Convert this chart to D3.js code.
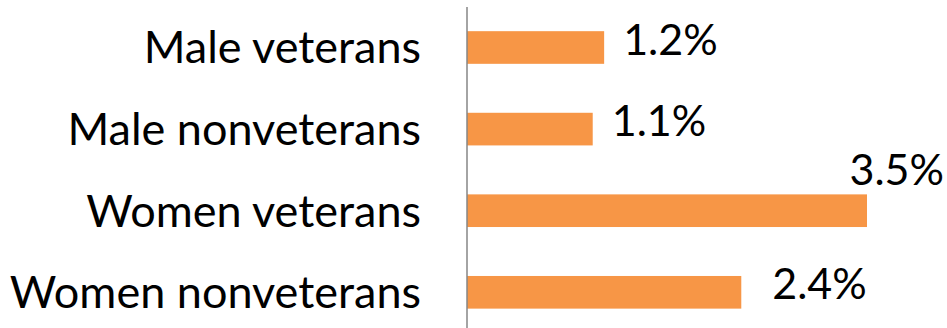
<!DOCTYPE html>
<html>
<head>
<meta charset="utf-8">
<script src="https://cdn.jsdelivr.net/npm/d3@7"></script>
<style>
  html, body { margin: 0; padding: 0; background: #fff; }
  svg { display: block; }
  text { font-family: Lato, "Noto Sans", sans-serif; fill: #000; }
</style>
</head>
<body>
<svg id="chart" width="947" height="328"></svg>
<script>
const categories = ["Male veterans", "Male nonveterans", "Women veterans", "Women nonveterans"];
const values = [1.2, 1.1, 3.5, 2.4];
const valueLabels = ["1.2%", "1.1%", "3.5%", "2.4%"];

const W = 947, H = 328;
const svg = d3.select("#chart");
const fontSize = 45;
const valueFontSize = 43;

const x = d3.scaleLinear().domain([0, 3.5]).range([467, 867]);
const y = d3.scaleBand().domain(categories).range([6.7, 333.1])
  .paddingInner(0.6).paddingOuter(0.3);

const data = categories.map((c, i) => ({ cat: c, v: values[i], label: valueLabels[i] }));

// bars
svg.append("g").selectAll("rect").data(data).join("rect")
  .attr("x", x(0))
  .attr("y", d => y(d.cat))
  .attr("width", d => x(d.v) - x(0))
  .attr("height", y.bandwidth())
  .attr("fill", "#F79646");

// category axis
const yAxis = d3.axisLeft(y).tickSize(0).tickPadding(46);
const ag = svg.append("g").attr("transform", `translate(${x(0)},0)`).call(yAxis);
ag.select(".domain").remove();
ag.selectAll("text")
  .attr("font-size", fontSize)
  .attr("font-family", "Lato, 'Noto Sans', sans-serif")
  .attr("fill", "#000")
  .attr("dy", null)
  .attr("y", fontSize * 0.355);
svg.append("line")
  .attr("x1", x(0)).attr("x2", x(0))
  .attr("y1", 7).attr("y2", H)
  .attr("stroke", "#868686").attr("stroke-width", 1.5);

// value labels (outside end; moved above the bar when it would overflow)
const chartRight = 944;
const labelShift = { "Women nonveterans": 12 };
svg.append("g").selectAll("text").data(data).join("text")
  .attr("font-size", valueFontSize)
  .each(function(d) {
    const t = d3.select(this).text(d.label);
    const w = this.getComputedTextLength();
    const cy = y(d.cat) + y.bandwidth() / 2;
    let tx = x(d.v) + 19 + (labelShift[d.cat] || 0);
    let ty = cy + 7;
    if (tx + w > chartRight) {
      tx = chartRight - w;
      ty = y(d.cat) - 9;
    }
    t.attr("x", tx).attr("y", ty);
  });
</script>
</body>
</html>
